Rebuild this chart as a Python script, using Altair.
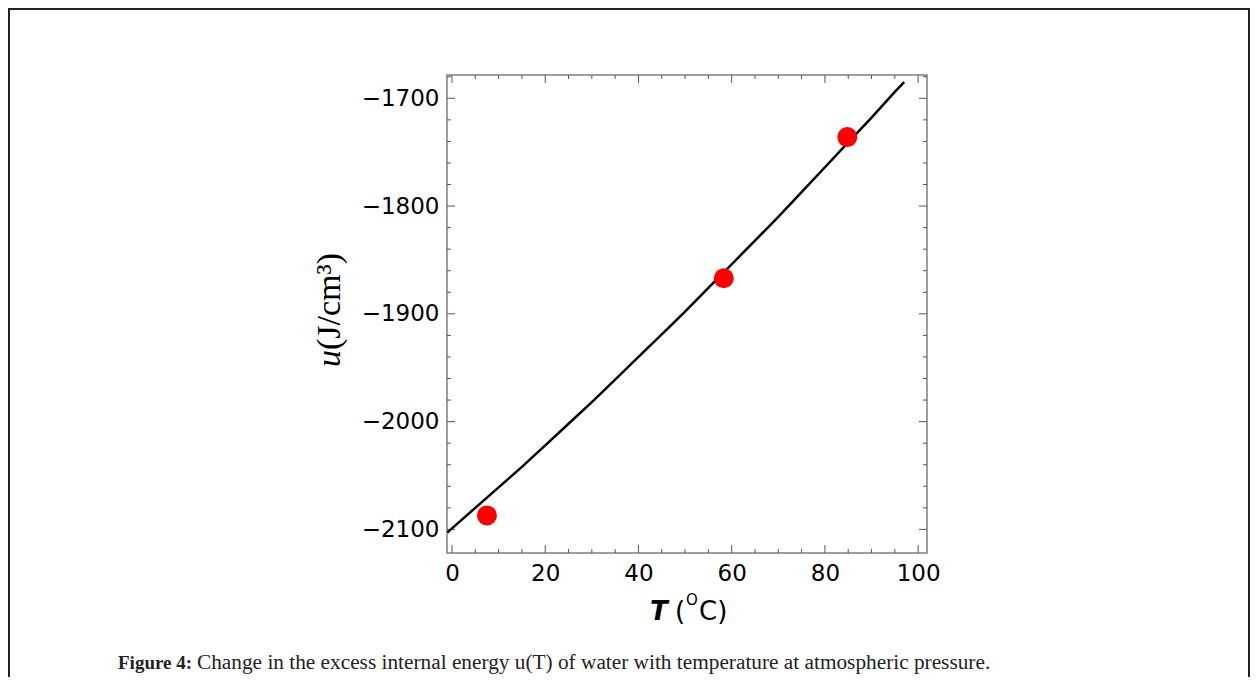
import altair as alt
import pandas as pd

# ---- data ----
curve_T = [-1, 0, 5, 10, 15, 20, 25, 30, 35, 40, 45, 50, 55, 60, 65, 70, 75, 80, 85, 90, 95, 97]
curve_u = [-2103, -2099, -2080, -2061, -2042, -2022, -2002, -1982, -1961, -1940, -1919, -1898,
           -1876, -1854, -1832, -1810, -1787, -1764, -1741, -1718, -1694, -1685]
pts_T = [7.5, 58.3, 84.8]
pts_u = [-2087, -1867, -1736]

x_major = [0, 20, 40, 60, 80, 100]
x_minor = [5, 10, 15, 25, 30, 35, 45, 50, 55, 65, 70, 75, 85, 90, 95]
y_major = [-2100, -2000, -1900, -1800, -1700]
y_minor = [-2080, -2060, -2040, -2020, -1980, -1960, -1940, -1920, -1880, -1860, -1840, -1820,
           -1780, -1760, -1740, -1720, -1680]

caption_bold = "Figure 4:"
caption_rest = "Change in the excess internal energy u(T) of water with temperature at atmospheric pressure."

W, H = 480, 478
X_DOMAIN = [-1.07, 101.9]
Y_DOMAIN = [-2121.9, -1678.4]

xs = alt.Scale(domain=X_DOMAIN, nice=False, zero=False)
ys = alt.Scale(domain=Y_DOMAIN, nice=False, zero=False)

label_font = "DejaVu Sans"
x_axis = alt.Axis(values=x_major, title=None, ticks=False, tickSize=0, domain=False, grid=False,
                  labelFont=label_font, labelFontSize=23, labelColor="black", labelPadding=9,
                  format="d")
y_axis = alt.Axis(values=y_major, title=None, ticks=False, tickSize=0, domain=False, grid=False,
                  labelFont=label_font, labelFontSize=23, labelColor="black", labelPadding=8,
                  labelExpr="datum.value < 0 ? '\u2212' + format(abs(datum.value), 'd') : format(datum.value, 'd')")


def X(field):
    return alt.X(field, type="quantitative", scale=xs, axis=x_axis)


def Y(field):
    return alt.Y(field, type="quantitative", scale=ys, axis=y_axis)


curve_df = pd.DataFrame({"T": curve_T, "u": curve_u})
pts_df = pd.DataFrame({"T": pts_T, "u": pts_u})
one = pd.DataFrame({"a": [0]})

tick_color = "#555555"
layers = []

# frame ticks (inward, Mathematica-style)
for vals, ln in ((x_major, 8), (x_minor, 4)):
    d = pd.DataFrame({"v": vals})
    layers.append(alt.Chart(d).mark_rule(color=tick_color, strokeWidth=1).encode(
        x=X("v"), y=alt.value(H), y2=alt.value(H - ln)))
    layers.append(alt.Chart(d).mark_rule(color=tick_color, strokeWidth=1).encode(
        x=X("v"), y=alt.value(0), y2=alt.value(ln)))
for vals, ln in ((y_major, 8), (y_minor, 4)):
    d = pd.DataFrame({"v": vals})
    layers.append(alt.Chart(d).mark_rule(color=tick_color, strokeWidth=1).encode(
        y=Y("v"), x=alt.value(0), x2=alt.value(ln)))
    layers.append(alt.Chart(d).mark_rule(color=tick_color, strokeWidth=1).encode(
        y=Y("v"), x=alt.value(W), x2=alt.value(W - ln)))

line = alt.Chart(curve_df).mark_line(color="black", strokeWidth=2.5).encode(x=X("T"), y=Y("u"))
points = alt.Chart(pts_df).mark_point(filled=True, color="#ff0000", size=400, opacity=1).encode(
    x=X("T"), y=Y("u"))
layers += [line, points]

# outer figure border
border = alt.Chart(one).mark_rect(fillOpacity=0, stroke="#222222", strokeWidth=2).encode(
    x=alt.value(-438), x2=alt.value(802), y=alt.value(-66), y2=alt.value(660))
layers.append(border)

# y axis title: u(J/cm^3) rotated
serif = "Liberation Serif"
layers.append(alt.Chart(one).mark_text(font=serif, fontSize=34, fontStyle="italic", angle=270,
                                       align="right", baseline="middle", color="black").encode(
    x=alt.value(-117), y=alt.value(275), text=alt.value("u")))
layers.append(alt.Chart(one).mark_text(font=serif, fontSize=34, angle=270,
                                       align="left", baseline="middle", color="black").encode(
    x=alt.value(-117), y=alt.value(275), text=alt.value("(J/cm\u00b3)")))

# x axis title: T (oC)
sans = "DejaVu Sans"
layers.append(alt.Chart(one).mark_text(font=sans, fontSize=26, fontStyle="italic", fontWeight="bold",
                                       align="left", baseline="middle", color="black").encode(
    x=alt.value(203), y=alt.value(537), text=alt.value("T")))
layers.append(alt.Chart(one).mark_text(font=sans, fontSize=26, align="left", baseline="middle",
                                       color="black").encode(
    x=alt.value(228), y=alt.value(537), text=alt.value("(")))
layers.append(alt.Chart(one).mark_text(font=sans, fontSize=15, align="left", baseline="middle",
                                       color="black").encode(
    x=alt.value(239), y=alt.value(525), text=alt.value("O")))
layers.append(alt.Chart(one).mark_text(font=sans, fontSize=26, align="left", baseline="middle",
                                       color="black").encode(
    x=alt.value(252), y=alt.value(537), text=alt.value("C)")))

# caption
layers.append(alt.Chart(one).mark_text(font=serif, fontSize=19, fontWeight="bold", align="left",
                                       baseline="middle", color="#222222").encode(
    x=alt.value(-329), y=alt.value(588), text=alt.value(caption_bold)))
layers.append(alt.Chart(one).mark_text(font=serif, fontSize=21.3, align="left",
                                       baseline="middle", color="#222222").encode(
    x=alt.value(-250), y=alt.value(588), text=alt.value(caption_rest)))

chart = alt.layer(*layers).properties(
    width=W, height=H,
    autosize=alt.AutoSizeParams(type="none"),
    padding={"left": 439, "top": 67, "right": 324, "bottom": 124},
    background="white",
).configure_view(stroke="#7f7f7f", strokeWidth=1.5)

chart.save("out.html", embed_options={"renderer": "svg", "actions": False})
